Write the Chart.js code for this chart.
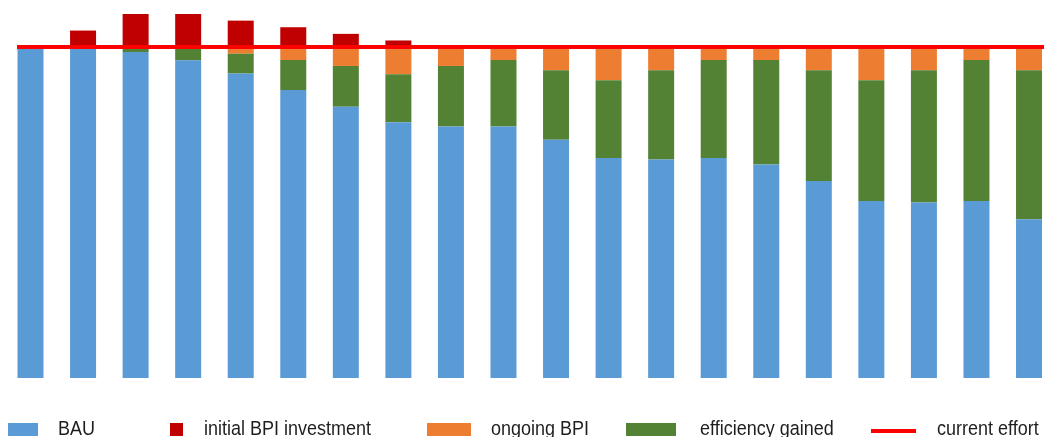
<!DOCTYPE html>
<html>
<head>
<meta charset="utf-8">
<script src="https://cdn.jsdelivr.net/npm/chart.js@4.4.0/dist/chart.umd.min.js"></script>
<style>
    body { margin: 0; background: #fff; }
    #wrap { position: relative; width: 1044px; height: 437px; }
    #legend {
        position: absolute; left: 0; top: 0; width: 1044px; height: 437px;
        font-family: "Liberation Sans", Arial, sans-serif; font-size: 18px; color: #1e1e1e;
        pointer-events: none;
    }
    .box { position: absolute; top: 423px; height: 13px; }
    .txt {
        position: absolute; top: 420px; line-height: 18px; white-space: nowrap;
        transform: scaleY(1.16); transform-origin: 0 15px;
    }
    .line-box { top: 429px; height: 4px; }

    .item:nth-child(1) .box { left: 8px; width: 30px; }
    .item:nth-child(1) .txt { left: 58px; }
    .item:nth-child(2) .box { left: 170px; width: 13px; }
    .item:nth-child(2) .txt { left: 204px; }
    .item:nth-child(3) .box { left: 427px; width: 44px; }
    .item:nth-child(3) .txt { left: 491px; }
    .item:nth-child(4) .box { left: 626px; width: 50px; }
    .item:nth-child(4) .txt { left: 700px; }
    .item:nth-child(5) .box { left: 871px; width: 45px; }
    .item:nth-child(5) .txt { left: 937px; }
</style>
</head>
<body>
<div id="wrap">
    <canvas id="bpiChart" width="1044" height="437"></canvas>
    <div id="legend"></div>
</div>

<script>
// periods along the x axis (no tick labels shown in the original)
const periods = [1, 2, 3, 4, 5, 6, 7, 8, 9, 10, 11, 12, 13, 14, 15, 16, 17, 18, 19, 20];

const bau = [100, 100, 98.5, 96, 92, 87, 82, 77.3, 76, 76, 72, 66.5, 66, 66.5, 64.5, 59.5, 53.5, 53, 53.5, 48];
const efficiencyGained = [0, 0, 1.5, 4, 6, 9.1, 12.3, 14.5, 18.3, 20.1, 21, 23.5, 27, 29.6, 31.6, 33.5, 36.5, 40, 42.6, 45];
const ongoingBpi = [0, 0, 0, 0, 2, 3.9, 5.7, 8.2, 5.7, 3.9, 7, 10, 7, 3.9, 3.9, 7, 10, 7, 3.9, 7];
const initialBpi = [0, 5, 10, 10, 8, 6, 4, 2, 0, 0, 0, 0, 0, 0, 0, 0, 0, 0, 0, 0];
const currentEffort = 100;

const legendOrder = ["BAU", "initial BPI investment", "ongoing BPI", "efficiency gained", "current effort"];

const colors = {
    "BAU": "#5B9BD5",
    "initial BPI investment": "#C00000",
    "ongoing BPI": "#ED7D31",
    "efficiency gained": "#548235",
    "current effort": "#FF0000"
};

function barSet(label, values) {
    return {
        type: "bar",
        label: label,
        data: values.map((v, i) => ({ x: periods[i], y: v })),
        backgroundColor: colors[label],
        borderWidth: 0,
        grouped: false,
        maxBarThickness: 26,
        stack: "bpi",
        order: 1
    };
}

const ctx = document.getElementById("bpiChart").getContext("2d");
const chart = new Chart(ctx, {
    data: {
        datasets: [
            barSet("BAU", bau),
            barSet("efficiency gained", efficiencyGained),
            barSet("ongoing BPI", ongoingBpi),
            barSet("initial BPI investment", initialBpi),
            {
                type: "line",
                label: "current effort",
                // runs across the whole plot area
                data: [{ x: 0, y: currentEffort }, { x: 1, y: currentEffort }],
                xAxisID: "x2",
                borderColor: colors["current effort"],
                borderWidth: 4,
                pointRadius: 0,
                order: 0
            }
        ]
    },
    options: {
        responsive: false,
        animation: false,
        layout: {
            autoPadding: false,
            padding: { left: 17, right: 0, top: 14, bottom: 59 }
        },
        plugins: {
            legend: { display: false },
            tooltip: { enabled: false }
        },
        scales: {
            x: {
                type: "linear",
                bounds: "data",
                offset: false,
                grid: { offset: false },
                min: 0.743,
                max: 20.285,
                stacked: true,
                display: false
            },
            x2: {
                type: "linear",
                bounds: "data",
                offset: false,
                min: 0,
                max: 1,
                display: false
            },
            y: {
                type: "linear",
                bounds: "data",
                min: 0,
                max: 110,
                stacked: true,
                display: false
            }
        }
    }
});

// legend drawn as html so the spacing can follow the original
const legend = document.getElementById("legend");
legendOrder.forEach(name => {
    const item = document.createElement("div");
    item.className = "item";
    const box = document.createElement("span");
    box.className = name === "current effort" ? "box line-box" : "box";
    box.style.background = colors[name];
    const txt = document.createElement("span");
    txt.className = "txt";
    txt.textContent = name;
    item.appendChild(box);
    item.appendChild(txt);
    legend.appendChild(item);
});
</script>
</body>
</html>
